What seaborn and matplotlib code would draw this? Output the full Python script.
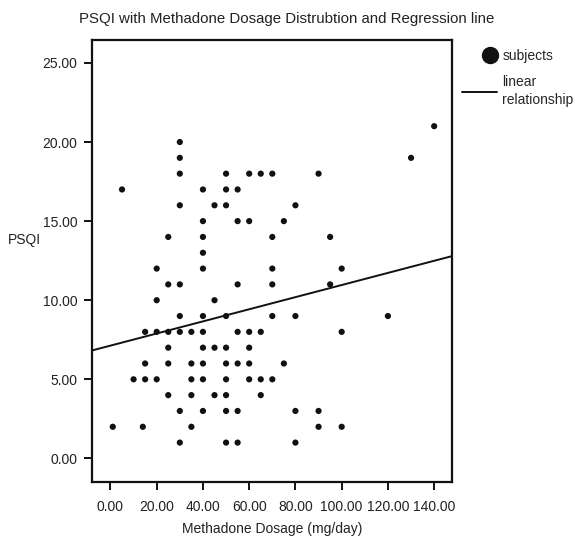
import numpy as np
import pandas as pd
import matplotlib
matplotlib.use('Agg')
import matplotlib.pyplot as plt
from matplotlib.lines import Line2D
import seaborn as sns

# Data (one entry per subject)
dosage = [30, 30, 30, 50, 60, 65, 70, 90, 140, 130,
          5, 40, 50, 55,
          30, 45, 50, 80,
          40, 55, 60, 75,
          25, 40, 70, 95,
          40,
          20, 40, 70, 100,
          25, 30, 55, 70, 95,
          20, 45,
          30, 40, 50, 70, 80, 120,
          15, 20, 25, 30, 35, 40, 55, 60, 65, 100,
          25, 40, 45, 50, 60,
          15, 25, 35, 40, 50, 55, 60, 75,
          10, 15, 20, 35, 40, 50, 60, 65, 70,
          25, 35, 45, 50, 65,
          30, 40, 50, 55, 80, 90,
          1, 14, 35, 90, 100,
          30, 50, 55, 80]
psqi = [20, 19, 18, 18, 18, 18, 18, 18, 21, 19,
        17, 17, 17, 17,
        16, 16, 16, 16,
        15, 15, 15, 15,
        14, 14, 14, 14,
        13,
        12, 12, 12, 12,
        11, 11, 11, 11, 11,
        10, 10,
        9, 9, 9, 9, 9, 9,
        8, 8, 8, 8, 8, 8, 8, 8, 8, 8,
        7, 7, 7, 7, 7,
        6, 6, 6, 6, 6, 6, 6, 6,
        5, 5, 5, 5, 5, 5, 5, 5, 5,
        4, 4, 4, 4, 4,
        3, 3, 3, 3, 3, 3,
        2, 2, 2, 2, 2,
        1, 1, 1, 1]

# regression line as shown in the figure
intercept = 7.13
slope = 0.0383

x_ticks = [0, 20, 40, 60, 80, 100, 120, 140]
y_ticks = [0, 5, 10, 15, 20, 25]

df = pd.DataFrame({'dosage': dosage, 'psqi': psqi})

sns.set_style('white')
plt.rcParams['font.family'] = ['Liberation Sans', 'DejaVu Sans']
plt.rcParams['font.size'] = 10

fig = plt.figure(figsize=(5.74, 5.38), dpi=100)
ax = fig.add_axes([0.161, 0.1047, 0.626, 0.821])

sns.scatterplot(data=df, x='dosage', y='psqi', color='#111111', s=20,
                edgecolor='none', ax=ax, legend=False)
ax.axline((0, intercept), slope=slope, color='#111111', lw=1.4)

ax.set_xlim(-7.8, 147.6)
ax.set_ylim(-1.47, 26.45)
ax.set_xticks(x_ticks)
ax.set_yticks(y_ticks)
ax.set_xticklabels([f'{v:.2f}' for v in x_ticks])
ax.set_yticklabels([f'{v:.2f}' for v in y_ticks])

for sp in ax.spines.values():
    sp.set_visible(True)
    sp.set_color('#111111')
    sp.set_linewidth(1.6)
ax.tick_params(axis='both', direction='out', length=6, width=1.4,
               bottom=True, left=True,
               color='#111111', labelcolor='#222222', labelsize=10)
ax.tick_params(axis='x', pad=7)
ax.tick_params(axis='y', pad=5)

ax.set_xlabel('Methadone Dosage (mg/day)', fontsize=10, color='#222222', labelpad=6)
ax.set_ylabel('PSQI', rotation=0, fontsize=10, color='#222222', ha='left', va='center')
ax.yaxis.set_label_coords(-0.235, 0.547)

fig.suptitle('PSQI with Methadone Dosage Distrubtion and Regression line',
             x=0.5, y=0.978, fontsize=10.8, color='#222222')

# legend: two separate blocks so marker and line sit like the original
leg1 = fig.legend([Line2D([], [], marker='o', ls='none', color='#111111', markersize=11.5)],
                  ['subjects'], loc='center left', bbox_to_anchor=(480 / 574, 1 - 56 / 538),
                  frameon=False, fontsize=10, handlelength=1.45, handletextpad=0.15,
                  borderpad=0, borderaxespad=0)
leg2 = fig.legend([Line2D([], [], color='#111111', lw=1.4)],
                  ['linear\nrelationship'], loc='center left',
                  bbox_to_anchor=(462 / 574, 1 - 91 / 538),
                  frameon=False, fontsize=10, handlelength=2.5, handletextpad=0.36,
                  borderpad=0, borderaxespad=0)
for t in leg2.get_texts():
    t.set_linespacing(1.45)

fig.savefig('out.png', dpi=100)
